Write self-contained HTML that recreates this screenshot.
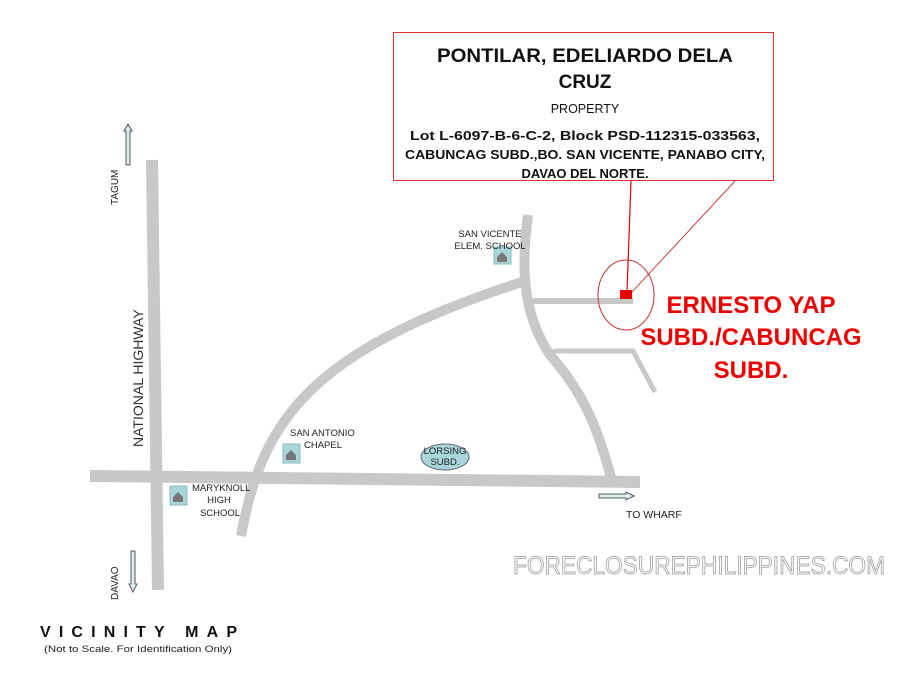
<!DOCTYPE html>
<html><head><meta charset="utf-8"><style>
html,body{margin:0;padding:0;background:#fff;}
svg{display:block;font-family:"Liberation Sans",Arial,sans-serif;}
</style></head><body>
<svg width="900" height="675" viewBox="0 0 900 675" xmlns="http://www.w3.org/2000/svg">
<rect width="900" height="675" fill="#fff"/>
<g stroke="#c8c8c8" fill="none">
  <line x1="152" y1="160" x2="158" y2="590" stroke-width="12"/>
  <line x1="90" y1="476" x2="640" y2="482" stroke-width="12"/>
  <path d="M241 536 C 262 420, 310 350, 525 281" stroke-width="10"/>
  <path d="M528 215 C 522 260, 520 310, 550 355 C 590 400, 600 440, 612 480" stroke-width="10"/>
  <line x1="528" y1="301" x2="633" y2="301" stroke-width="6"/>
  <polyline points="553,351 633,351 655,392" stroke-width="5"/>
</g>
<rect x="393.5" y="32.5" width="380" height="148" fill="#fff" stroke="#e03030" stroke-width="1"/>
<line x1="631" y1="181" x2="627" y2="292" stroke="#d00" stroke-width="1.2"/>
<line x1="735" y1="181" x2="632" y2="292" stroke="#d04040" stroke-width="1"/>
<ellipse cx="626" cy="295" rx="28" ry="35" fill="none" stroke="#c03030" stroke-width="1"/>
<rect x="620" y="290" width="12" height="9" fill="#e00"/>
<g text-anchor="middle" fill="#111" font-weight="bold">
  <text x="585" y="62" font-size="19" textLength="296" lengthAdjust="spacingAndGlyphs">PONTILAR, EDELIARDO DELA</text>
  <text x="585" y="88" font-size="19">CRUZ</text>
  <text x="585" y="113" font-size="12.5" font-weight="normal">PROPERTY</text>
  <text x="585" y="140" font-size="13" textLength="350" lengthAdjust="spacingAndGlyphs">Lot L-6097-B-6-C-2, Block PSD-112315-033563,</text>
  <text x="585" y="159" font-size="13" textLength="360" lengthAdjust="spacingAndGlyphs">CABUNCAG SUBD.,BO. SAN VICENTE, PANABO CITY,</text>
  <text x="585" y="178" font-size="13">DAVAO DEL NORTE.</text>
</g>
<g text-anchor="middle" fill="#e00" font-weight="bold" font-size="24">
  <text x="751" y="313">ERNESTO YAP</text>
  <text x="751" y="345">SUBD./CABUNCAG</text>
  <text x="751" y="378">SUBD.</text>
</g>
<g fill="#dff0ea" stroke="#556" stroke-width="1">
  <polygon points="128,124 132,131 130,131 130,165 126,165 126,131 124,131"/>
  <polygon points="133,592 137,584 135,584 135,551 131,551 131,584 129,584"/>
  <polygon points="634,496 626,492 626,494 599,494 599,498 626,498 626,500"/>
</g>
<g>
  <rect x="170" y="486" width="17" height="19" fill="#a9d6d8" stroke="#8bb"/>
  <rect x="283" y="444" width="17" height="19" fill="#a9d6d8" stroke="#8bb"/>
  <rect x="494" y="247" width="17" height="17" fill="#a9d6d8" stroke="#8bb"/>
  <path d="M173 497 l5 -5 l5 5 v5 h-10z M286 455 l5 -5 l5 5 v5 h-10z M497 257 l5 -5 l5 5 v5 h-10z" fill="#777"/>
</g>
<ellipse cx="445" cy="457" rx="24" ry="13" fill="#a9d6d8" stroke="#667"/>
<g font-size="9.5" fill="#222">
  <text x="445" y="454" text-anchor="middle">LORSING</text>
  <text x="445" y="465" text-anchor="middle">SUBD.</text>
  <text x="290" y="436">SAN ANTONIO</text>
  <text x="304" y="448">CHAPEL</text>
  <text x="192" y="491">MARYKNOLL</text>
  <text x="219" y="503" text-anchor="middle">HIGH</text>
  <text x="220" y="516" text-anchor="middle">SCHOOL</text>
  <text x="490" y="237" text-anchor="middle">SAN VICENTE</text>
  <text x="490" y="249" text-anchor="middle">ELEM. SCHOOL</text>
  <text x="626" y="518" font-size="10.5">TO WHARF</text>
  <text transform="translate(118,205) rotate(-90)" font-size="10">TAGUM</text>
  <text transform="translate(118,600) rotate(-90)" font-size="10">DAVAO</text>
</g>
<text transform="translate(143,447) rotate(-90)" font-size="14" fill="#333">NATIONAL HIGHWAY</text>
<text x="40" y="637" font-size="16" font-weight="bold" fill="#111" textLength="197" lengthAdjust="spacing">VICINITY MAP</text>
<text x="44" y="652" font-size="9.5" fill="#222" textLength="188" lengthAdjust="spacingAndGlyphs">(Not to Scale. For Identification Only)</text>
<text x="513" y="574" font-size="25" fill="#fff" stroke="#999" stroke-width="0.8" textLength="372" lengthAdjust="spacingAndGlyphs">FORECLOSUREPHILIPPINES.COM</text>
</svg>
</body></html>
